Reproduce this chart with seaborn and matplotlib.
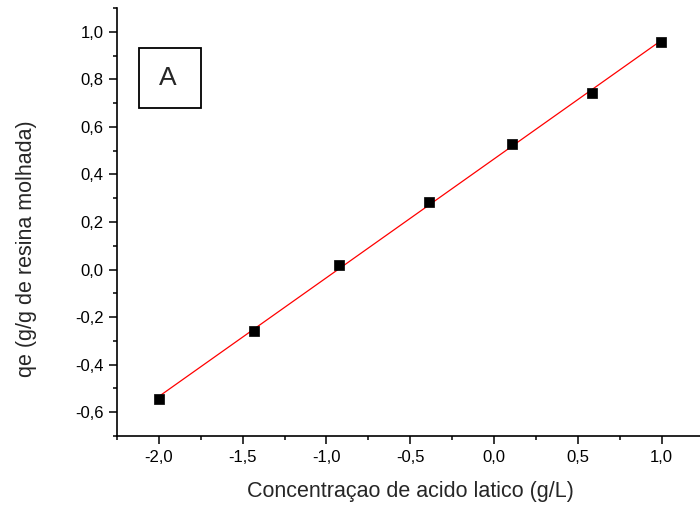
import numpy as np
import pandas as pd
import matplotlib
matplotlib.use("Agg")
import matplotlib.pyplot as plt
from matplotlib.ticker import MultipleLocator, FuncFormatter
from matplotlib.patches import Rectangle
import seaborn as sns

# Data
conc = [-2.0, -1.435, -0.923, -0.39, 0.107, 0.583, 0.994]
qe = [-0.545, -0.259, 0.02, 0.285, 0.527, 0.743, 0.955]

x_label = "Concentraçao de acido latico (g/L)"
y_label = "qe (g/g de resina molhada)"
panel = "A"

df = pd.DataFrame({"x": conc, "y": qe})

sns.set_style("ticks")
plt.rcParams["font.family"] = ["Liberation Sans", "DejaVu Sans"]

fig = plt.figure(figsize=(7.0, 5.11), dpi=100)
ax = fig.add_axes([117 / 700, 1 - 436 / 511, 1 - 117 / 700 + 0.005, (436 - 8) / 511])

sns.regplot(data=df, x="x", y="y", ax=ax, scatter=False, ci=None,
            color="red", line_kws={"lw": 0.9}, truncate=True)
sns.scatterplot(data=df, x="x", y="y", ax=ax, marker="s", s=60,
                color="black", edgecolor="black", linewidth=0.5, zorder=3)

ax.set_xlim(-2.25, 1.25)
ax.set_ylim(-0.7, 1.1)

fmt = FuncFormatter(lambda v, p: f"{v:.1f}".replace(".", ",").replace("−", "-"))
ax.xaxis.set_major_locator(MultipleLocator(0.5))
ax.xaxis.set_minor_locator(MultipleLocator(0.25))
ax.yaxis.set_major_locator(MultipleLocator(0.2))
ax.yaxis.set_minor_locator(MultipleLocator(0.1))
ax.xaxis.set_major_formatter(fmt)
ax.yaxis.set_major_formatter(fmt)

for s in ["top", "right"]:
    ax.spines[s].set_visible(False)
for s in ["left", "bottom"]:
    ax.spines[s].set_linewidth(1.2)
    ax.spines[s].set_color("black")

ax.tick_params(which="major", direction="out", length=5.8, width=1.1,
               labelsize=12, color="black", labelcolor="black", pad=4)
ax.tick_params(which="minor", direction="out", length=2.9, width=1.1, color="black")

ax.set_xlabel(x_label, fontsize=15.5, labelpad=12)
ax.set_ylabel(y_label, fontsize=15.5)
ax.yaxis.set_label_coords(27 / 700, 1 - 249 / 511, transform=fig.transFigure)
ax.yaxis.label.set_verticalalignment("center")

ax.add_patch(Rectangle((139 / 700, 1 - 108 / 511), 62 / 700, 60 / 511,
                       transform=fig.transFigure, fill=False, lw=1.3,
                       edgecolor="black", clip_on=False))
fig.text(168 / 700, 1 - 78 / 511, panel, fontsize=19, ha="center", va="center")

fig.savefig("out.png", dpi=100)
